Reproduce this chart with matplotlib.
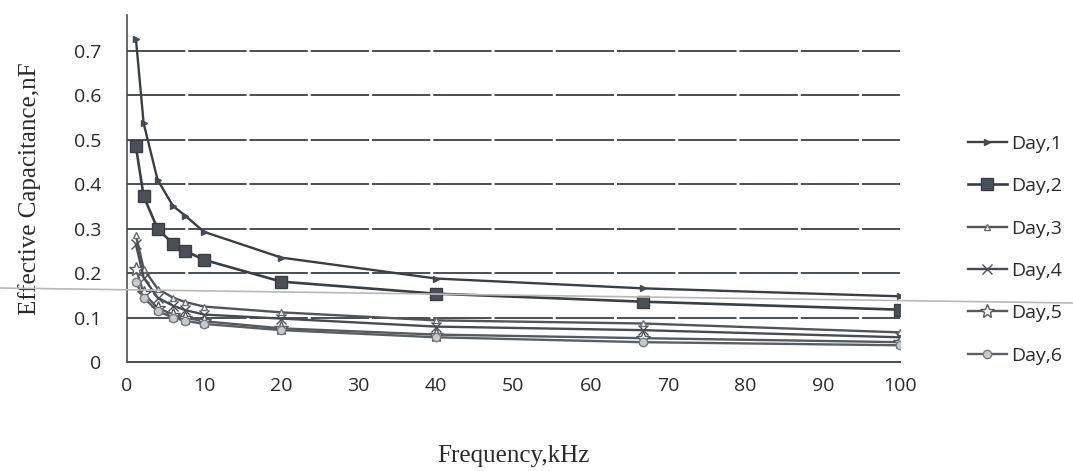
import matplotlib
matplotlib.use("Agg")
import matplotlib.pyplot as plt
from matplotlib.lines import Line2D

freq_khz = [1.2, 2.2, 4, 6, 7.6, 10, 20, 40, 66.7, 100]
day1 = [0.727, 0.537, 0.410, 0.351, 0.329, 0.293, 0.235, 0.188, 0.166, 0.148]
day2 = [0.485, 0.373, 0.300, 0.266, 0.250, 0.230, 0.181, 0.154, 0.136, 0.118]
day3 = [0.285, 0.210, 0.165, 0.145, 0.135, 0.125, 0.112, 0.094, 0.087, 0.067]
day4 = [0.265, 0.190, 0.145, 0.127, 0.117, 0.107, 0.098, 0.080, 0.072, 0.056]
day5 = [0.210, 0.155, 0.122, 0.107, 0.100, 0.092, 0.076, 0.062, 0.054, 0.045]
day6 = [0.180, 0.145, 0.115, 0.100, 0.093, 0.086, 0.072, 0.056, 0.045, 0.038]
series_labels = ["Day,1", "Day,2", "Day,3", "Day,4", "Day,5", "Day,6"]
x_ticks = [0, 10, 20, 30, 40, 50, 60, 70, 80, 90, 100]
y_ticks = [0, 0.1, 0.2, 0.3, 0.4, 0.5, 0.6, 0.7]

fig = plt.figure(figsize=(10.73, 4.71), dpi=100)
ax = fig.add_axes([0.118, 0.231, 0.721, 0.737])

line_col = "#454b52"
styles = [
    dict(marker=">", ms=4, mfc=line_col, mec=line_col, color="#3a3f45", lw=1.7),
    dict(marker="s", ms=9, mfc="#4a5057", mec="#3a3f45", color="#3a3f45", lw=1.9),
    dict(marker="^", ms=4, mfc="white", mec="#6a6f75", color="#50555b", lw=1.7),
    dict(marker="x", ms=7, mfc="none", mec="#4a4f55", color="#474c52", lw=1.7),
    dict(marker="*", ms=10, mfc="white", mec="#555a60", color="#555a60", lw=1.7),
    dict(marker="o", ms=6, mfc="#c8cacc", mec="#777b80", color="#5a5f64", lw=1.7),
]
data = [day1, day2, day3, day4, day5, day6]
for vals, lab, st in zip(data, series_labels, styles):
    ax.plot(freq_khz, vals, label=lab, zorder=3, **st)

ax.set_xlim(0, 100)
ax.set_ylim(0, 0.78)
ax.set_xticks(x_ticks)
ax.set_yticks(y_ticks)
ax.set_yticklabels(["0", "0.1", "0.2", "0.3", "0.4", "0.5", "0.6", "0.7"])
ax.grid(axis="y", color="#4a4f55", lw=1.4, ls=(0, (30, 1.5)))
ax.grid(axis="x", visible=False)
for s in ["top", "right"]:
    ax.spines[s].set_visible(False)
ax.spines["left"].set_color("#4a4f55")
ax.spines["left"].set_linestyle((0, (4, 1)))
ax.spines["left"].set_linewidth(1.2)
ax.spines["bottom"].set_color("#4a4f55")
ax.spines["bottom"].set_linewidth(1.4)
ax.tick_params(axis="both", length=0, labelsize=14, labelcolor="#2a2a2a")
for lbl in ax.get_xticklabels() + ax.get_yticklabels():
    lbl.set_fontfamily("Open Sans")
ax.tick_params(axis="y", pad=18)
ax.tick_params(axis="x", pad=11)

ax.set_xlabel("Frequency,kHz", fontsize=18, family="Liberation Serif", color="#2a2a2a", labelpad=36)
ax.set_ylabel("Effective Capacitance,nF", fontsize=18, family="Liberation Serif", color="#2a2a2a", labelpad=24)

leg = ax.legend(loc="upper left", bbox_to_anchor=(1.065, 0.705), frameon=False,
                prop={"family": "Open Sans", "size": 14}, labelspacing=1.25,
                handlelength=2.0, handletextpad=0.2)
for t in leg.get_texts():
    t.set_color("#2a2a2a")

# scanner streak across the page
fig.add_artist(Line2D([0, 1], [1 - 288 / 471, 1 - 303 / 471], transform=fig.transFigure,
                      color="#b8b8b8", lw=1.2, zorder=10))

fig.savefig("out.png", dpi=100)
